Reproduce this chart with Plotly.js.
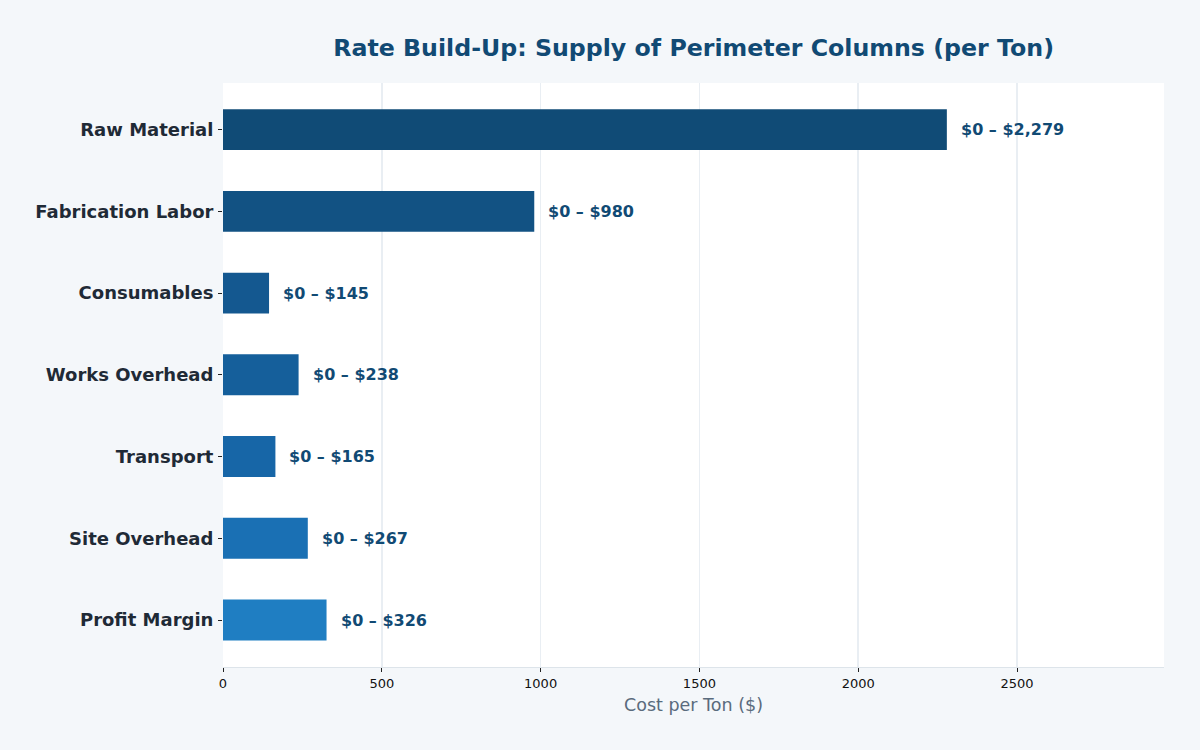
<!DOCTYPE html>
<html><head><meta charset="utf-8">
<script src="https://cdn.plot.ly/plotly-3.0.1.min.js"></script>
<style>html,body{margin:0;padding:0;background:#f4f7fa;}#chart{width:1200px;height:750px;}</style>
</head><body><div id="chart"></div>
<script>
const categories = ["Raw Material","Fabrication Labor","Consumables","Works Overhead","Transport","Site Overhead","Profit Margin"];
const lowValues = [0,0,0,0,0,0,0];
const highValues = [2279,980,145,238,165,267,326];
const barColors = ["#104b76","#125283","#145890","#155f9b","#1766a7","#1a70b4","#1f7ec2"];

const fmt = v => "$" + v.toLocaleString("en-US");
const labels = categories.map((c,i)=> fmt(lowValues[i]) + " – " + fmt(highValues[i]));

const trace = {
  type: "bar", orientation: "h",
  y: categories, x: highValues.map((h,i)=>h-lowValues[i]), base: lowValues,
  width: 0.5,
  marker: {color: barColors, line: {width: 0}},
  hoverinfo: "skip"
};

const annotations = categories.map((c,i)=>({
  x: highValues[i], y: c, xref: "x", yref: "y",
  text: labels[i], showarrow: false, xanchor: "left", xshift: 12,
  font: {family: "DejaVu Sans", size: 16, color: "#114a74", weight: "bold"}
}));

const layout = {
  width: 1200, height: 750,
  paper_bgcolor: "#f4f7fa", plot_bgcolor: "#ffffff",
  margin: {l: 223, r: 36, t: 83, b: 83},
  title: {text: "<b>Rate Build-Up: Supply of Perimeter Columns (per Ton)</b>", x: 0.578, xanchor: "center", y: 0.937, yanchor: "middle",
    font: {family: "DejaVu Sans", size: 23.7, color: "#114a74"}},
  showlegend: false,
  xaxis: {range: [0, 2279*1.3], tickvals: [0,500,1000,1500,2000,2500], ticks: "outside", ticklen: 4, tickcolor: "#222",
    showgrid: true, gridcolor: "#e9eef3", gridwidth: 1.5, zeroline: false, showline: true, linecolor: "#dde4ea",
    tickfont: {family: "DejaVu Sans", size: 13, color: "#111"},
    title: {text: "Cost per Ton ($)", font: {family: "DejaVu Sans", size: 17.5, color: "#5a6b7d"}, standoff: 9}},
  yaxis: {range: [6.575, -0.57], ticks: "outside", ticklen: 4, tickcolor: "#222", showgrid: false, zeroline: false, showline: false,
    tickfont: {family: "DejaVu Sans", size: 18, color: "#1f2a36", weight: "bold"}, ticklabelstandoff: 1},
  annotations: annotations
};

Plotly.newPlot("chart", [trace], layout, {displayModeBar: false, staticPlot: true});
</script></body></html>
